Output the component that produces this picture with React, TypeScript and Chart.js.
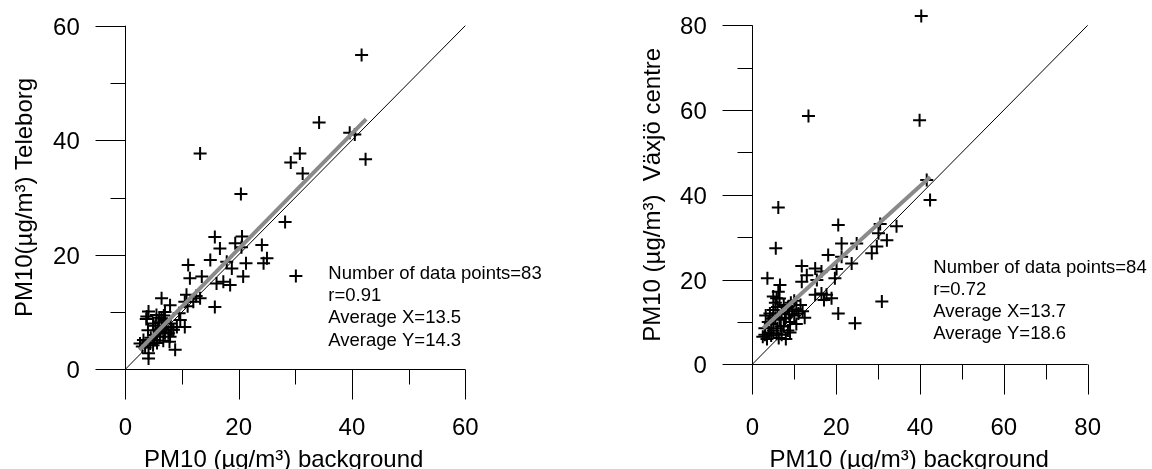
import { useEffect, useRef } from "react";
import { Chart, registerables } from "chart.js";

Chart.register(...registerables);

// ---------- Left panel: Teleborg vs background ----------
const leftX = [
  41.7, 34.2, 39.6, 40.5, 42.4, 13.2, 30.8, 29.2, 31.3, 20.4, 28.2, 30.1,
  15.8, 20.6, 16.7, 19.4, 24.1, 25.0, 24.4, 21.3, 20.8, 15.0, 17.9, 18.8,
  11.1, 11.4, 13.5, 16.1, 17.3, 18.5, 15.8, 10.8, 12.0, 13.2, 10.5, 20.5,
  12.5, 6.4, 7.9, 4.1, 3.8, 5.5, 6.4, 7.0, 9.7, 10.5, 9.1, 8.2,
  7.9, 8.8, 7.0, 6.1, 5.2, 4.4, 3.2, 2.6, 4.1, 4.1, 4.9, 5.8,
  7.3, 4.9, 6.0, 6.8, 5.0, 3.5, 6.5, 8.0, 9.5, 5.6, 6.7, 7.6,
  4.5, 3.0, 5.3, 7.0, 8.5, 11.0, 6.2, 4.0, 3.7, 5.9, 7.8,
];
const leftY = [
  54.9, 43.1, 41.3, 41.0, 36.7, 37.7, 37.7, 36.1, 34.2, 30.6, 25.7, 16.3,
  23.1, 23.2, 21.1, 22.0, 21.7, 19.4, 18.5, 18.5, 16.2, 19.1, 18.8, 17.6,
  18.2, 15.9, 16.2, 15.0, 15.3, 14.7, 10.9, 13.0, 11.8, 12.4, 11.8, 21.3,
  12.8, 12.4, 11.2, 10.1, 9.2, 9.5, 8.9, 8.6, 8.6, 7.4, 7.4, 6.9,
  5.7, 3.4, 6.3, 5.7, 5.1, 4.5, 5.1, 4.5, 2.8, 1.9, 4.2, 6.9,
  7.4, 8.0, 9.0, 9.4, 6.0, 3.8, 7.2, 8.0, 9.8, 4.6, 5.0, 6.3,
  5.5, 4.0, 7.6, 10.0, 6.9, 11.0, 6.5, 6.8, 8.8, 8.2, 4.8,
];
const leftFitX = [2.5, 42.5];
const leftFitY = [3.4, 43.7];
const leftLineX = [0, 60];
const leftLineY = [0, 60];
const leftMajorTicks = [0, 20, 40, 60];
const leftMinorTicks = [10, 30, 50];
const leftXTitle = "PM10 (µg/m³) background";
const leftYTitle = "PM10(µg/m³) Teleborg";
const leftStats = [
  "Number of data points=83",
  "r=0.91",
  "Average X=13.5",
  "Average Y=14.3",
];

// ---------- Right panel: Växjö centre vs background ----------
const rightX = [
  40.3, 13.4, 39.9, 41.6, 42.4, 6.2, 5.6, 3.6, 20.5, 30.5, 34.4, 30.1,
  32.1, 29.7, 28.5, 24.9, 21.3, 23.7, 18.1, 21.3, 19.7, 20.1, 20.5, 24.5,
  30.9, 11.8, 11.8, 15.0, 16.5, 15.4, 16.5, 17.7, 18.9, 17.1, 15.0, 6.6,
  6.2, 5.8, 13.0, 2.5, 3.0, 3.5, 4.0, 4.5, 5.0, 3.2, 4.2, 5.0,
  5.5, 6.0, 6.5, 7.0, 7.5, 8.0, 8.5, 9.0, 9.5, 10.0, 10.5, 11.0,
  12.0, 6.0, 7.0, 8.0, 9.0, 4.5, 5.5, 6.5, 7.5, 8.5, 5.0, 3.8,
  6.8, 9.2, 10.5, 11.5, 12.5, 7.8, 5.8, 4.8, 8.8, 3.0, 10.0, 6.3,
];
const rightY = [
  82.2, 58.6, 57.6, 43.5, 38.8, 37.0, 27.4, 20.3, 32.9, 33.1, 32.6, 30.9,
  29.3, 27.8, 26.2, 28.5, 28.5, 23.8, 25.8, 25.4, 20.3, 22.5, 12.0, 9.7,
  14.8, 23.2, 19.5, 22.6, 21.9, 19.9, 16.7, 16.4, 15.6, 15.2, 16.4, 18.7,
  17.1, 15.6, 21.0, 6.5, 7.0, 6.0, 7.5, 6.8, 8.0, 11.5, 12.0, 12.8,
  11.0, 13.5, 10.5, 12.0, 9.0, 11.0, 8.0, 10.0, 12.5, 11.5, 13.0, 12.0,
  12.5, 8.5, 7.0, 6.0, 7.5, 9.5, 14.5, 15.5, 14.0, 13.5, 16.0, 10.0,
  9.0, 14.5, 9.5, 14.0, 11.0, 10.8, 7.2, 10.8, 11.8, 8.5, 15.0, 6.2,
];
const rightFitX = [2.6, 42.4];
const rightFitY = [8.5, 44.2];
const rightLineX = [0, 80];
const rightLineY = [0, 80];
const rightMajorTicks = [0, 20, 40, 60, 80];
const rightMinorTicks = [10, 30, 50, 70];
const rightXTitle = "PM10 (µg/m³) background";
const rightYTitle = "PM10 (µg/m³)  Växjö centre";
const rightStats = [
  "Number of data points=84",
  "r=0.72",
  "Average X=13.7",
  "Average Y=18.6",
];

const FONT = '"Liberation Sans", Arial, Helvetica, sans-serif';

type PanelLayout = {
  padding: { left: number; right: number; top: number; bottom: number };
  yTitleBaseline: number;
  xTitleCenter: number;
  statsX: number;
  statsBaselines: number[];
};

type Panel = {
  xs: number[];
  ys: number[];
  fitX: number[];
  fitY: number[];
  lineX: number[];
  lineY: number[];
  max: number;
  major: number[];
  minor: number[];
  xTitle: string;
  yTitle: string;
  stats: string[];
  layout: PanelLayout;
};

function zip(a: number[], b: number[]) {
  return a.map((v, i) => ({ x: v, y: b[i] }));
}

function makeAxesPlugin(p: Panel) {
  return {
    id: "customAxes",
    afterDraw(chart: any) {
      const ctx: CanvasRenderingContext2D = chart.ctx;
      const xs = chart.scales.x;
      const ys = chart.scales.y;
      const x0 = xs.getPixelForValue(0);
      const y0 = ys.getPixelForValue(0);
      const MAJ = 30;
      const MIN = 15;
      ctx.save();
      ctx.strokeStyle = "#000";
      ctx.lineWidth = 1;
      const cx = Math.round(x0) + 0.5;
      const cy = Math.round(y0) + 0.5;
      // axis lines
      ctx.beginPath();
      ctx.moveTo(cx, ys.getPixelForValue(p.max));
      ctx.lineTo(cx, cy);
      ctx.moveTo(cx, cy);
      ctx.lineTo(xs.getPixelForValue(p.max), cy);
      ctx.stroke();
      // y ticks
      ctx.beginPath();
      for (const v of p.major) {
        const py = Math.round(ys.getPixelForValue(v)) + 0.5;
        ctx.moveTo(cx - MAJ, py);
        ctx.lineTo(cx, py);
      }
      for (const v of p.minor) {
        const py = Math.round(ys.getPixelForValue(v)) + 0.5;
        ctx.moveTo(cx - MIN, py);
        ctx.lineTo(cx, py);
      }
      // x ticks
      for (const v of p.major) {
        const px = Math.round(xs.getPixelForValue(v)) + 0.5;
        ctx.moveTo(px, cy);
        ctx.lineTo(px, cy + MAJ);
      }
      for (const v of p.minor) {
        const px = Math.round(xs.getPixelForValue(v)) + 0.5;
        ctx.moveTo(px, cy);
        ctx.lineTo(px, cy + MIN);
      }
      ctx.stroke();

      // tick labels
      ctx.fillStyle = "#000";
      ctx.font = `24px ${FONT}`;
      ctx.textAlign = "right";
      ctx.textBaseline = "alphabetic";
      for (const v of p.major) {
        const py = ys.getPixelForValue(v);
        ctx.fillText(String(v), x0 - MAJ - 15.5, py + 9);
      }
      ctx.textAlign = "center";
      for (const v of p.major) {
        const px = xs.getPixelForValue(v);
        ctx.fillText(String(v), px, 435);
      }

      // axis titles
      ctx.fillText(p.xTitle, p.layout.xTitleCenter, 466.5);
      ctx.save();
      const midY = (ys.getPixelForValue(0) + ys.getPixelForValue(p.max)) / 2;
      ctx.translate(p.layout.yTitleBaseline, midY);
      ctx.rotate(-Math.PI / 2);
      ctx.textAlign = "center";
      ctx.fillText(p.yTitle, 0, 0);
      ctx.restore();

      // stats text
      ctx.font = `18.5px ${FONT}`;
      ctx.textAlign = "left";
      p.stats.forEach((s, i) => {
        ctx.fillText(s, p.layout.statsX, p.layout.statsBaselines[i]);
      });
      ctx.restore();
    },
  };
}

function makeConfig(p: Panel): any {
  return {
    type: "scatter",
    data: {
      datasets: [
        {
          label: "fit",
          data: zip(p.fitX, p.fitY),
          showLine: true,
          borderColor: "#8a8a8a",
          borderWidth: 4,
          pointRadius: 0,
          pointHoverRadius: 0,
          borderCapStyle: "butt",
          order: 1,
          clip: false,
        },
        {
          label: "1:1",
          data: zip(p.lineX, p.lineY),
          showLine: true,
          borderColor: "#000",
          borderWidth: 1,
          pointRadius: 0,
          pointHoverRadius: 0,
          order: 2,
          clip: false,
        },
        {
          label: "data",
          data: zip(p.xs, p.ys),
          pointStyle: "cross",
          pointRadius: 6.5,
          // larger hover radius only widens the visibility margin so the
          // point above the axis top is not culled
          pointHoverRadius: 14,
          pointBorderWidth: 2,
          borderColor: "#000",
          backgroundColor: "#000",
          order: 3,
          clip: false,
        },
      ],
    },
    options: {
      responsive: false,
      animation: false,
      devicePixelRatio: 1,
      events: [],
      layout: { padding: p.layout.padding },
      plugins: {
        legend: { display: false },
        tooltip: { enabled: false },
      },
      scales: {
        x: { type: "linear", min: 0, max: p.max, display: false },
        y: { type: "linear", min: 0, max: p.max, display: false },
      },
    },
    plugins: [makeAxesPlugin(p)],
  };
}

const leftPanel: Panel = {
  xs: leftX,
  ys: leftY,
  fitX: leftFitX,
  fitY: leftFitY,
  lineX: leftLineX,
  lineY: leftLineY,
  max: 60,
  major: leftMajorTicks,
  minor: leftMinorTicks,
  xTitle: leftXTitle,
  yTitle: leftYTitle,
  stats: leftStats,
  layout: {
    padding: { left: 125.3, right: 110.7, top: 25.7, bottom: 99.7 },
    yTitleBaseline: 31.7,
    xTitleCenter: 283.7,
    statsX: 328.3,
    statsBaselines: [278.5, 301, 323.3, 345.5],
  },
};

const rightPanel: Panel = {
  xs: rightX,
  ys: rightY,
  fitX: rightFitX,
  fitY: rightFitY,
  lineX: rightLineX,
  lineY: rightLineY,
  max: 80,
  major: rightMajorTicks,
  minor: rightMinorTicks,
  xTitle: rightXTitle,
  yTitle: rightYTitle,
  stats: rightStats,
  layout: {
    padding: { left: 176.3, right: 64.3, top: 25.3, bottom: 104.7 },
    yTitleBaseline: 84,
    xTitleCenter: 333.2,
    statsX: 357.3,
    statsBaselines: [272.5, 294.7, 316.9, 339.1],
  },
};

function PanelChart({ panel, left }: { panel: Panel; left: number }) {
  const ref = useRef<HTMLCanvasElement | null>(null);
  useEffect(() => {
    if (!ref.current) return;
    const chart = new Chart(ref.current, makeConfig(panel));
    return () => chart.destroy();
  }, [panel]);
  return (
    <canvas
      ref={ref}
      width={576}
      height={469}
      style={{ position: "absolute", left, top: 0, width: 576, height: 469 }}
    />
  );
}

export default function App() {
  return (
    <div
      style={{
        position: "fixed",
        left: 0,
        top: 0,
        width: 1152,
        height: 469,
        background: "#fff",
        overflow: "hidden",
      }}
    >
      <PanelChart panel={leftPanel} left={0} />
      <PanelChart panel={rightPanel} left={576} />
    </div>
  );
}
